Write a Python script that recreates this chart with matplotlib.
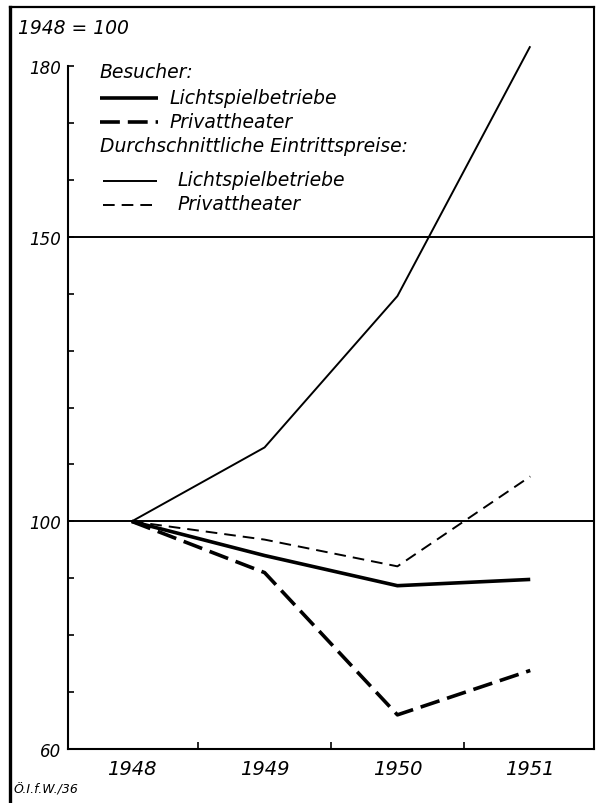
import matplotlib
matplotlib.use("Agg")
import matplotlib.pyplot as plt
from matplotlib.lines import Line2D

# Data (1948 = 100)
years = [1948, 1949, 1950, 1951]
besucher_licht = [100, 94.0, 88.7, 89.8]
besucher_privat = [100, 91.0, 66.0, 73.8]
preis_licht = [100, 113.0, 139.6, 183.5]
preis_privat = [100, 96.8, 92.1, 107.9]

y_labels = [60, 100, 150, 180]
y_minor = [70, 80, 90, 110, 120, 130, 140, 160, 170]
x_minor = [1948.5, 1949.5, 1950.5]

W, H = 608, 804
plt.rcParams['font.family'] = ['DejaVu Sans']


def fx(x):
    return x / W


def fy(y):
    return 1 - y / H


fig = plt.figure(figsize=(W / 100, H / 100), dpi=100)
ax = fig.add_axes([fx(68), fy(750), (594 - 68) / W, (750 - 8) / H])

# Styles
thick = dict(color="black", lw=2.6, solid_capstyle="butt", dash_capstyle="butt")
thin = dict(color="black", lw=1.4, solid_capstyle="butt", dash_capstyle="butt")

ax.axhline(100, color="black", lw=1.4)
ax.axhline(150, color="black", lw=1.4)

ax.plot(years, preis_licht, **thin)
ax.plot(years, preis_privat, linestyle=(0, (6.0, 3.6)), **thin)
ax.plot(years, besucher_licht, **thick)
ax.plot(years, besucher_privat, linestyle=(0, (5.5, 2.2)), **thick)

ax.set_xlim(1947.52, 1951.48)
ax.set_ylim(60, 190.4)

ax.spines["top"].set_visible(False)
ax.spines["left"].set_bounds(60, 180)
for s in ["left", "right", "bottom"]:
    ax.spines[s].set_linewidth(1.5)

ax.set_yticks(y_labels)
ax.set_yticklabels([str(v) for v in y_labels], fontstyle="italic", fontsize=12)
ax.set_yticks(y_minor, minor=True)
ax.tick_params(axis="y", which="both", direction="in", length=4, width=1.2, pad=5)

ax.set_xticks(years)
ax.set_xticklabels([str(v) for v in years], fontstyle="italic", fontsize=14)
ax.set_xticks(x_minor, minor=True)
ax.tick_params(axis="x", which="major", length=0, pad=7)
ax.tick_params(axis="x", which="minor", direction="in", length=5, width=1.2)

# outer frame
fig.add_artist(Line2D([fx(10), fx(594)], [fy(8), fy(8)], color="black", lw=1.6,
                      transform=fig.transFigure))
fig.add_artist(Line2D([fx(10), fx(10)], [fy(8), fy(804)], color="black", lw=2.4,
                      transform=fig.transFigure))

fig.text(fx(18), fy(28), "1948 = 100", fontstyle="italic", fontsize=13.5, va="center")

# legend
leg_text = dict(fontstyle="italic", fontsize=13.5, va="center")
fig.text(fx(100), fy(72), "Besucher:", **leg_text)
fig.add_artist(Line2D([fx(100), fx(158)], [fy(99), fy(99)], transform=fig.transFigure, **thick))
fig.text(fx(170), fy(99), "Lichtspielbetriebe", **leg_text)
fig.add_artist(Line2D([fx(100), fx(158)], [fy(123), fy(123)], transform=fig.transFigure,
                      linestyle=(0, (5.5, 2.2)), **thick))
fig.text(fx(170), fy(123), "Privattheater", **leg_text)
fig.text(fx(100), fy(146), "Durchschnittliche Eintrittspreise:", **leg_text)
fig.add_artist(Line2D([fx(103), fx(157)], [fy(182), fy(182)], transform=fig.transFigure, **thin))
fig.text(fx(178), fy(181), "Lichtspielbetriebe", **leg_text)
fig.add_artist(Line2D([fx(103), fx(157)], [fy(206), fy(206)], transform=fig.transFigure,
                      linestyle=(0, (6.0, 3.6)), **thin))
fig.text(fx(177), fy(205), "Privattheater", **leg_text)

fig.text(fx(13), fy(790), "Ö.I.f.W./36", fontstyle="italic", fontsize=9, va="center",
         family=["Liberation Sans Narrow", "DejaVu Sans"])

fig.savefig("out.png", dpi=100)
